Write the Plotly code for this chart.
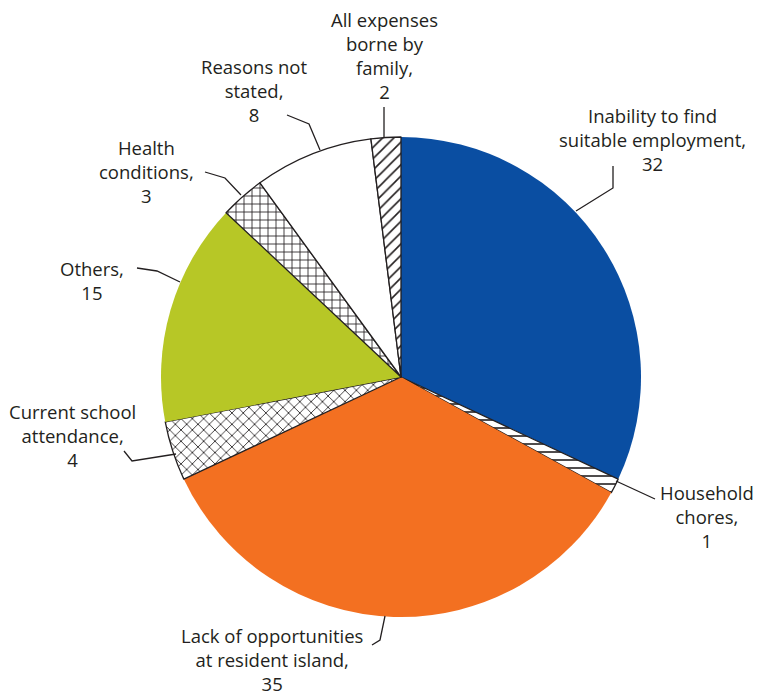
import plotly.graph_objects as go

W, H = 758, 697

categories = [
    "Inability to find<br>suitable employment,",
    "Household<br>chores,",
    "Lack of opportunities<br>at resident island,",
    "Current school<br>attendance,",
    "Others,",
    "Health<br>conditions,",
    "Reasons not<br>stated,",
    "All expenses<br>borne by<br>family,",
]
values = [32, 1, 35, 4, 15, 3, 8, 2]

fill_colors = ["#0a4ea2", "#ffffff", "#f37021", "#ffffff", "#b7c726", "#ffffff", "#ffffff", "#ffffff"]
patterns = ["", "-", "", "x", "", "+", "", "/"]
line_widths = [0, 1.3, 0, 1.3, 0, 1.3, 1.3, 1.3]
INK = "#231f20"

# label layout (pixel space): text centre x, text block centre y, leader polyline
label_layout = [
    dict(x=652, y=139, leader=[(613, 166), (613, 188), (576, 211)]),
    dict(x=707, y=516, leader=[(655, 499), (616, 481)]),
    dict(x=272, y=659, leader=[(372, 645), (380, 640), (385, 616)]),
    dict(x=72, y=435, leader=[(124, 451), (132, 461), (176, 454)]),
    dict(x=92, y=280, leader=[(137, 268), (157, 271), (180, 282)]),
    dict(x=146, y=171, leader=[(205, 172), (225, 178), (241, 195)]),
    dict(x=254, y=90, leader=[(287, 115), (309, 124), (320, 150)]),
    dict(x=384, y=56, leader=[(384, 107), (384, 137)]),
]

cx, cy, r = 401, 377, 240


def px(x):
    return x / W


def py(y):
    return 1 - y / H


fig = go.Figure(
    go.Pie(
        labels=categories,
        values=values,
        sort=False,
        direction="clockwise",
        rotation=0,
        textinfo="none",
        hoverinfo="label+value",
        showlegend=False,
        marker=dict(
            colors=fill_colors,
            line=dict(color=INK, width=line_widths),
            pattern=dict(shape=patterns, fgcolor=INK, bgcolor="#ffffff", size=8, solidity=0.2),
        ),
        domain=dict(x=[px(cx - r), px(cx + r)], y=[py(cy + r), py(cy - r)]),
    )
)

annotations = []
shapes = []
for cat, val, lay in zip(categories, values, label_layout):
    annotations.append(
        dict(
            x=px(lay["x"]), y=py(lay["y"]), xref="paper", yref="paper",
            text=f"{cat}<br>{val}", showarrow=False, align="center",
            xanchor="center", yanchor="middle",
            font=dict(family="Open Sans", size=18.5, color=INK),
        )
    )
    pts = lay["leader"]
    path = "M " + " L ".join(f"{px(a):.5f},{py(b):.5f}" for a, b in pts)
    shapes.append(dict(type="path", path=path, xref="paper", yref="paper",
                       line=dict(color=INK, width=1.3)))

fig.update_layout(
    width=W, height=H, autosize=False,
    margin=dict(l=0, r=0, t=0, b=0),
    paper_bgcolor="white", plot_bgcolor="white",
    annotations=annotations, shapes=shapes,
)

fig.write_html(
    "out.html",
    config={"displayModeBar": False},
    post_script="document.body.style.margin='0';document.body.style.overflow='hidden';",
)
